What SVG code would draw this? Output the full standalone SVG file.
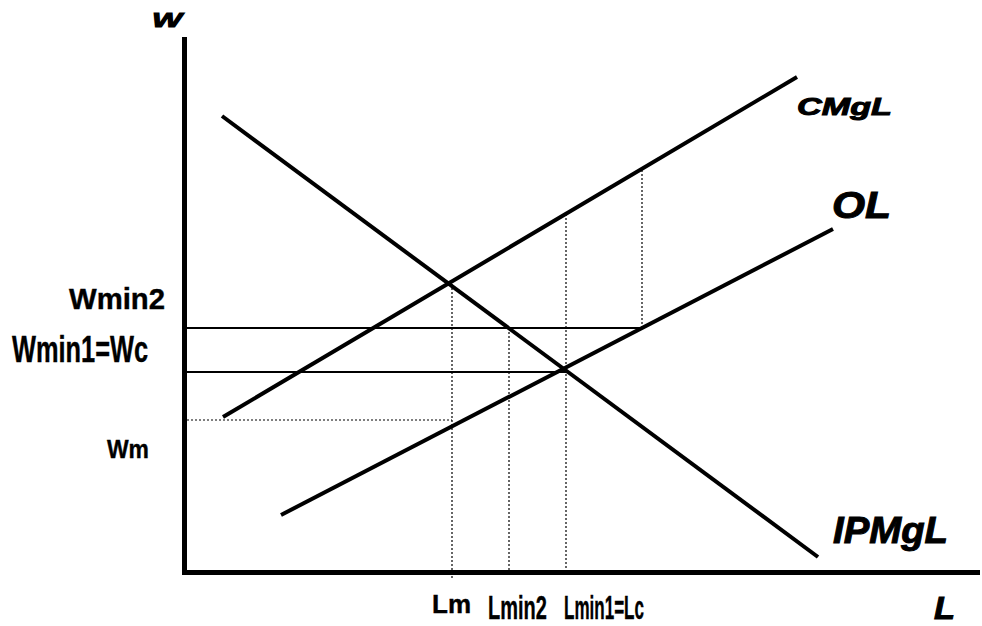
<svg xmlns="http://www.w3.org/2000/svg" width="982" height="626" viewBox="0 0 982 626">
<style>
.axis{stroke:#000;stroke-width:5;fill:none}
.curve{stroke:#000;stroke-width:4;fill:none}
.hline{stroke:#000;stroke-width:2;fill:none}
.dot{stroke:#000;stroke-width:1.2;stroke-dasharray:2,2;fill:none}
.lbl{font-family:"Liberation Sans",Arial,sans-serif;font-weight:bold;fill:#000;stroke:#000;stroke-width:0.4}
.bi{font-family:"Liberation Sans",Arial,sans-serif;font-weight:bold;font-style:italic;fill:#000;stroke:#000;stroke-width:1}
</style>
<rect width="982" height="626" fill="#fff"/>
<g id="axes">
<path class="axis" d="M184.5,37 V572.5 H980"/>
<text class="bi" x="152" y="27" font-size="20" textLength="30" lengthAdjust="spacingAndGlyphs">W</text>
<text class="bi" x="934" y="619" font-size="31" textLength="21" lengthAdjust="spacingAndGlyphs">L</text>
</g>
<g id="connectors">
<path class="dot" d="M187,420 H452"/>
<path class="dot" d="M452,284 V579"/>
<path class="dot" d="M509,328 V572"/>
<path class="dot" d="M566,214 V572"/>
<path class="dot" d="M642,170 V328"/>
<path class="hline" d="M187,328 H642"/>
<path class="hline" d="M187,372 H566"/>
</g>
<g id="IPMgL">
<path class="curve" d="M222,116 L818,557"/>
<text class="bi" x="833" y="543" font-size="37" textLength="115" lengthAdjust="spacingAndGlyphs">IPMgL</text>
</g>
<g id="CMgL">
<path class="curve" d="M223,417 L797,77"/>
<text class="bi" x="797" y="115" font-size="24" textLength="95" lengthAdjust="spacingAndGlyphs">CMgL</text>
</g>
<g id="OL">
<path class="curve" d="M281,515 L833,229"/>
<text class="bi" x="832" y="218" font-size="37" textLength="59" lengthAdjust="spacingAndGlyphs">OL</text>
</g>
<g id="ylabels">
<text class="lbl" x="69" y="309" font-size="30" textLength="96" lengthAdjust="spacingAndGlyphs">Wmin2</text>
<text class="lbl" x="12" y="362" font-size="37" textLength="136" lengthAdjust="spacingAndGlyphs">Wmin1=Wc</text>
<text class="lbl" x="107" y="458" font-size="26" textLength="42" lengthAdjust="spacingAndGlyphs">Wm</text>
</g>
<g id="xlabels">
<text class="lbl" x="432" y="613" font-size="25" textLength="39" lengthAdjust="spacingAndGlyphs">Lm</text>
<text class="lbl" transform="translate(488,619) scale(0.6,1)" x="0" y="0" font-size="34" textLength="98" lengthAdjust="spacingAndGlyphs">Lmin2</text>
<text class="lbl" transform="translate(564,619) scale(0.5,1)" x="0" y="0" font-size="34" textLength="160" lengthAdjust="spacingAndGlyphs">Lmin1=Lc</text>
</g>
</svg>
